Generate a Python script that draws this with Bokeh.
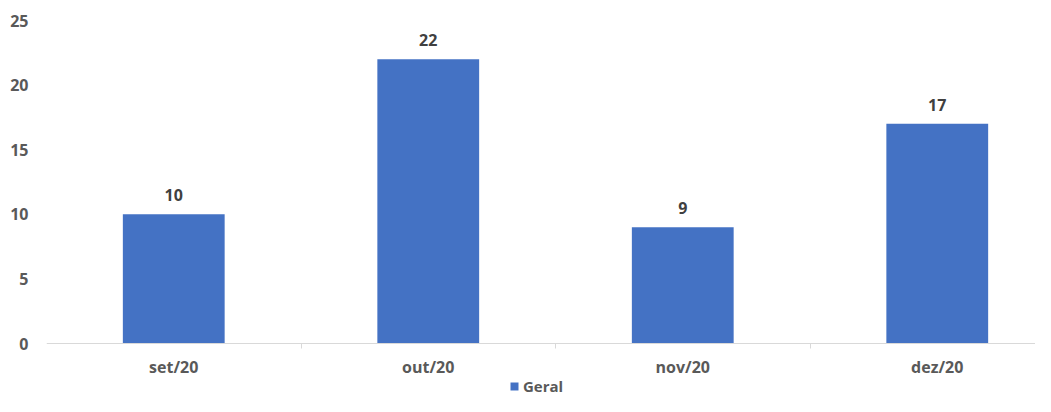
from bokeh.plotting import figure
from bokeh.models import Range1d, FixedTicker, Legend, LegendItem, ColumnDataSource, LabelSet
from bokeh.core.properties import value
from bokeh.embed import file_html
from bokeh.resources import INLINE

categories = ["set/20", "out/20", "nov/20", "dez/20"]
values = [10, 22, 9, 17]
series_name = "Geral"
y_ticks = [0, 5, 10, 15, 20, 25]

BAR = "#4472C4"
FONT = "Open Sans"

xs = [i + 0.5 for i in range(len(categories))]
src = ColumnDataSource(dict(x=xs, top=values, lab=[str(v) for v in values]))

p = figure(width=1035, height=396, output_backend="svg", toolbar_location=None,
           x_range=Range1d(0, 3.886), y_range=Range1d(-4.1, 25),
           min_border_left=46, min_border_right=0, min_border_top=20, min_border_bottom=0)
p.outline_line_color = None
p.xgrid.visible = False
p.ygrid.visible = False

r = p.vbar(x="x", top="top", bottom=0, width=0.4, source=src, fill_color=BAR, line_color=None)

labels = LabelSet(x="x", y="top", text="lab", source=src, text_align="center",
                  text_baseline="bottom", y_offset=13, text_font=value(FONT),
                  text_font_style="bold", text_font_size="16px", text_color="#404040")
p.add_layout(labels)

# x axis, drawn at y = 0 inside the frame
p.xaxis.fixed_location = 0
p.xaxis.ticker = FixedTicker(ticks=xs, minor_ticks=[1, 2, 3])
p.xaxis.major_label_overrides = {x: c for x, c in zip(xs, categories)}
p.xaxis.axis_line_color = "#D9D9D9"
p.xaxis.major_tick_line_color = None
p.xaxis.minor_tick_line_color = "#D9D9D9"
p.xaxis.minor_tick_in = 0
p.xaxis.minor_tick_out = 5
p.xaxis.major_label_standoff = 6
p.xaxis.major_label_text_font = FONT
p.xaxis.major_label_text_font_style = "bold"
p.xaxis.major_label_text_font_size = "16px"
p.xaxis.major_label_text_color = "#595959"

# y axis
p.yaxis.ticker = FixedTicker(ticks=y_ticks)
p.yaxis.axis_line_color = None
p.yaxis.major_tick_line_color = None
p.yaxis.minor_tick_line_color = None
p.yaxis.major_label_standoff = 12
p.yaxis.major_label_text_font = FONT
p.yaxis.major_label_text_font_style = "bold"
p.yaxis.major_label_text_font_size = "16px"
p.yaxis.major_label_text_color = "#595959"

legend = Legend(items=[LegendItem(label=series_name, renderers=[r])],
                location=(463, 0), orientation="horizontal",
                glyph_width=10, glyph_height=10, label_standoff=4,
                padding=1, margin=0, border_line_color=None, background_fill_alpha=0,
                label_text_font=FONT, label_text_font_style="bold",
                label_text_font_size="15px", label_text_color="#595959")
p.add_layout(legend, "center")

open("out.html", "w").write(file_html(p, INLINE))
